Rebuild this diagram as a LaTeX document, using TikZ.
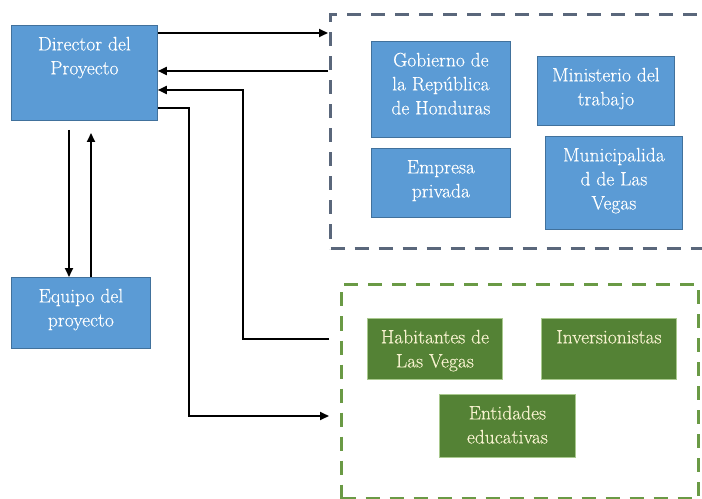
\documentclass[tikz,border=0pt]{standalone}
\usepackage{fontspec}
\setmainfont{Latin Modern Roman}[UprightFeatures={FakeBold=0.35}]
\usetikzlibrary{arrows.meta}
\definecolor{bfill}{HTML}{5B9BD5}
\definecolor{bdraw}{HTML}{41719C}
\definecolor{gfill}{HTML}{548235}
\definecolor{gdraw}{HTML}{A9C98E}
\definecolor{cream}{HTML}{F7F2CF}
\definecolor{grayline}{HTML}{5A677B}
\definecolor{greenline}{HTML}{6A9A45}
\newcommand{\boxtxt}[3]{\parbox[t][#2][t]{#1}{\centering\rule{0pt}{25bp}#3}}
\tikzset{
  every node/.style={font=\fontsize{19.5bp}{24bp}\selectfont, inner sep=0pt, anchor=north west},
  bluebox/.style={fill=bfill, draw=bdraw, line width=0.8bp, text=white},
  greenbox/.style={fill=gfill, draw=gdraw, line width=0.8bp, text=cream},
  grayframe/.style={draw=grayline, line width=3bp, dash pattern=on 14bp off 10bp},
  greenframe/.style={draw=greenline, line width=3bp, dash pattern=on 14bp off 10bp},
  arr/.style={draw=black, line width=1.8bp, -{Triangle[length=9bp,width=8bp]}}
}
\begin{document}
\begin{tikzpicture}[x=1bp,y=-1bp]
\useasboundingbox (0,0) rectangle (702,499);
\clip (0,0) rectangle (702,499);
% frames
\node[grayframe, minimum width=390bp, minimum height=234bp] (grp1) at (329,13) {};
\node[greenframe, minimum width=357bp, minimum height=214bp] (grp2) at (340,283) {};
% left boxes
\node[bluebox, minimum width=146bp, minimum height=95bp] (dir) at (11,25) {\boxtxt{146bp}{95bp}{Director del\\Proyecto}};
\node[bluebox, minimum width=139bp, minimum height=71bp] (equ) at (11,277) {\boxtxt{139bp}{71bp}{Equipo del\\proyecto}};
% gray group boxes
\node[bluebox, minimum width=139bp, minimum height=96bp] (gob) at (371,41) {\boxtxt{139bp}{96bp}{Gobierno de\\la República\\de Honduras}};
\node[bluebox, minimum width=137bp, minimum height=69bp] (min) at (537,56) {\boxtxt{137bp}{69bp}{Ministerio del\\trabajo}};
\node[bluebox, minimum width=139bp, minimum height=69bp] (emp) at (371,148) {\boxtxt{139bp}{69bp}{Empresa\\privada}};
\node[bluebox, minimum width=137bp, minimum height=93bp] (mun) at (545,136) {\boxtxt{137bp}{93bp}{Municipalida\\d de Las\\Vegas}};
% green group boxes
\node[greenbox, minimum width=135bp, minimum height=61bp] (hab) at (367,318) {\boxtxt{135bp}{61bp}{Habitantes de\\Las Vegas}};
\node[greenbox, minimum width=135bp, minimum height=61bp] (inv) at (541,318) {\boxtxt{135bp}{61bp}{Inversionistas}};
\node[greenbox, minimum width=136bp, minimum height=63bp] (ent) at (439,394) {\boxtxt{136bp}{63bp}{Entidades\\educativas}};
% connector end points
\coordinate (a3s) at (329,339);
\coordinate (a4e) at (329,416);
\coordinate (dn1) at (69,130);
\coordinate (up1) at (91,133);
% connectors
\draw[arr] (dir.east |- 0,33) -- ([xshift=-1bp]grp1.west |- 0,33);
\draw[arr] ([xshift=-1bp]grp1.west |- 0,71) -- (dir.east |- 0,71);
\draw[arr] (a3s) -- (243,339) -- (243,90) -- (dir.east |- 0,90);
\draw[arr] (dir.east |- 0,108) -- (189,108) -- (189,416) -- (a4e);
\draw[arr] (dn1) -- (equ.north -| dn1);
\draw[arr] (equ.north -| up1) -- (up1);
\end{tikzpicture}
\end{document}
